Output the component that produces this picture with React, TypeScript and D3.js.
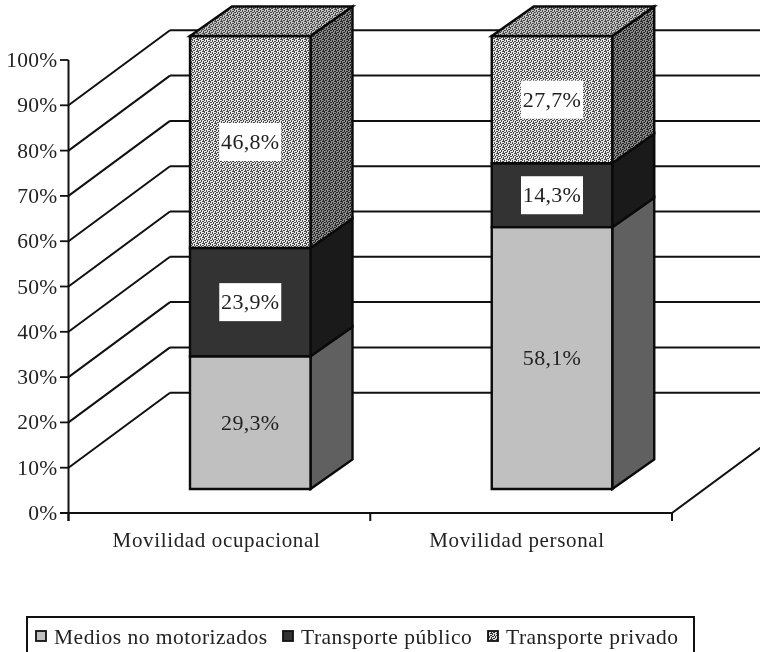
import React from "react";
import * as d3 from "d3";

const categories = ["Movilidad ocupacional", "Movilidad personal"];
const seriesNames = ["Medios no motorizados", "Transporte público", "Transporte privado"];
const medios = [29.3, 57.8];
const publico = [23.9, 14.1];
const privado = [46.8, 28.1];
const valueLabels = [["29,3%", "58,1%"], ["23,9%", "14,3%"], ["46,8%", "27,7%"]];
const yTicks = [0, 10, 20, 30, 40, 50, 60, 70, 80, 90, 100];
const legendSwatches = ["#c0c0c0", "#333333", "url(#pLegend)"];

const W = 760, H = 652;
const y = d3.scaleLinear().domain([0, 100]).range([513, 60]);
const x = d3.scaleBand<number>().domain([0, 1]).range([68.5, 672]);
const backDx = 101.5, backDy = -75;
const floorDy = -24, sideDx = 42, sideDy = -29.5;
const barWidth = 120.5;
const barOffset = 121.5;
const font = "'Liberation Serif', serif";
const stack = d3.stack<number>().keys(["0", "1", "2"]).value((i, k) => [medios, publico, privado][+k][i]);
const layers = stack([0, 1]);
const front = (px: number, v: number) => [px, y(v) + floorDy];
const back = (px: number, v: number) => [px + sideDx, y(v) + floorDy + sideDy];
const poly = (p: number[][]) => d3.line()(p as [number, number][]) + "Z";
const fills = [
  { front: "#c0c0c0", side: "#606060", top: "#c0c0c0" },
  { front: "#333333", side: "#1a1a1a", top: "#333333" },
  { front: "url(#pFront)", side: "url(#pSide)", top: "url(#pTop)" },
];

const Speck = ({ id, bg, fg }: { id: string; bg: string; fg: string }) => (
  <pattern id={id} width={6} height={6} patternUnits="userSpaceOnUse">
    <rect width={6} height={6} fill={bg} />
    <path d="M0 0h2v1H0zM3 0h1v2H3zM5 1h1v2H5zM1 2h2v1H1zM4 3h2v1H4zM0 3h1v2H0zM2 4h1v2H2zM4 5h2v1H4z" fill={fg} />
  </pattern>
);

export default function App() {
  const depthLines = yTicks.slice(1, 10);
  return (
    <svg width={W} height={H} style={{ position: "absolute", left: 0, top: 0, filter: "blur(0.45px)", background: "#fff" }} fontFamily={font} fill="#222">
      <defs>
        <Speck id="pFront" bg="#e6e6e6" fg="#4a4a4a" />
        <Speck id="pSide" bg="#8c8c8c" fg="#262626" />
        <Speck id="pTop" bg="#c2c2c2" fg="#4a4a4a" />
        <Speck id="pLegend" bg="#dddddd" fg="#333333" />
      </defs>
      {depthLines.map((t) => {
        const bx = x(0)! + backDx, by = y(t) + backDy;
        return (
          <g key={t} stroke="#111" strokeWidth={2} fill="none">
            <line x1={x(0)} y1={y(t)} x2={bx} y2={by} />
            <line x1={bx} y1={by} x2={W} y2={by} />
          </g>
        );
      })}
      <line x1={672} y1={513} x2={672 + backDx} y2={513 + backDy} stroke="#111" strokeWidth={2} />
      <line x1={68.5} y1={60} x2={68.5} y2={521} stroke="#111" strokeWidth={2} />
      <line x1={60} y1={513} x2={672} y2={513} stroke="#111" strokeWidth={2} />
      {yTicks.map((t) => (
        <g key={t}>
          <line x1={60} x2={68.5} y1={y(t)} y2={y(t)} stroke="#111" strokeWidth={1.8} />
          <text x={57.5} y={y(t) + 7} textAnchor="end" fontSize={21.5} letterSpacing={0.3}>{t}%</text>
        </g>
      ))}
      {[0, 1, 2].map((i) => <line key={i} x1={x(0)! + i * x.bandwidth()} x2={x(0)! + i * x.bandwidth()} y1={513} y2={521} stroke="#111" strokeWidth={2} />)}
      {categories.map((c, i) => (
        <text key={c} x={i === 0 ? 216.5 : 517} y={547} textAnchor="middle" fontSize={21} letterSpacing={0.65}>{c}</text>
      ))}
      {categories.map((_, i) => {
        const x0 = x(i)! + barOffset - (i === 0 ? 0 : 0);
        const x1 = x0 + barWidth;
        return (
          <g key={i}>
            {layers.map((ly, s) => {
              const a = ly[i][0], b = Math.min(ly[i][1], 100);
              const f = fills[s];
              return (
                <g key={s} stroke="#0a0a0a" strokeWidth={2.4}>
                  <path d={poly([front(x1, a), back(x1, a), back(x1, b), front(x1, b)])} fill={f.side} />
                  <path d={poly([front(x0, a), front(x1, a), front(x1, b), front(x0, b)])} fill={f.front} />
                  {s === 2 && <path d={poly([front(x0, b), front(x1, b), back(x1, b), back(x0, b)])} fill={f.top} />}
                </g>
              );
            })}
          </g>
        );
      })}
      {categories.map((_, i) => layers.map((ly, s) => {
        const x0 = x(i)! + barOffset;
        const [cx, cy] = front(x0 + barWidth / 2, (ly[i][0] + ly[i][1]) / 2);
        return (
          <g key={`${i}-${s}`}>
            {s > 0 && <rect x={cx - 31} y={cy - 19} width={62} height={38} fill="#fff" />}
            <text x={cx} y={cy + 7} textAnchor="middle" fontSize={22} letterSpacing={0.3}>{valueLabels[s][i]}</text>
          </g>
        );
      }))}
      <rect x={27} y={617} width={667} height={40} fill="#fff" stroke="#111" strokeWidth={2} />
      {seriesNames.map((n, i) => {
        const sx = [36, 283, 488][i];
        return (
          <g key={n}>
            <rect x={sx} y={631} width={10} height={10} fill={legendSwatches[i]} stroke="#111" strokeWidth={1.8} />
            <text x={sx + 18} y={643.5} fontSize={21.5} letterSpacing={0.5}>{n}</text>
          </g>
        );
      })}
    </svg>
  );
}
